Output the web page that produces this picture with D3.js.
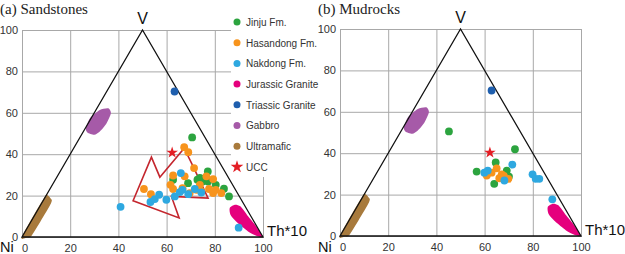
<!DOCTYPE html>
<html>
<head>
<meta charset="utf-8">
<script src="https://cdn.jsdelivr.net/npm/d3@7"></script>
<style>
  body { margin: 0; background: #fff; }
  svg { display: block; }
</style>
</head>
<body>
<svg id="chart"></svg>
<script>
/* global d3 */
const ticks = [0, 20, 40, 60, 80, 100]
const groups = ['Jinju Fm.', 'Hasandong Fm.', 'Nakdong Fm.', 'Jurassic Granite', 'Triassic Granite', 'Gabbro', 'Ultramafic', 'UCC']
const colors = ['#2ca43f', '#f7941d', '#2ea8e0', '#e5007d', '#1f5fae', '#a65aa8', '#a87a3c', '#e31e25']
const sans = '"Liberation Sans", Arial, sans-serif'
const serif = '"Liberation Serif", "DejaVu Serif", serif'

// (a) sandstones, [x, y] on the 0-100 frame
const jinjuA = [[70.6, 48.1], [77.1, 31.7], [72.8, 27.7], [74.9, 26.8], [68.9, 26], [80.4, 25.2], [83.8, 23.3], [85.9, 19.6], [62.7, 27.7], [77.2, 26.8], [73.8, 28.5]]
const hasandongA = [[67.3, 43.4], [69, 41], [71.4, 33.3], [62.7, 29.7], [67.5, 29.3], [50.6, 23.2], [53.5, 20.7], [61.6, 25.2], [62.7, 23.2], [66.6, 23.6], [69.6, 21.2], [73.8, 25.2], [76.5, 29.3], [79.3, 28], [77.6, 23.2], [80.4, 22.8], [79.3, 21.2], [82.7, 21.2], [74.4, 22], [72.4, 22.8]]
const nakdongA = [[40.9, 14.6], [53.3, 16.9], [55.1, 18.3], [56.9, 20.4], [59.9, 18], [63.4, 19.6], [65.5, 21.7], [66.6, 22.8], [65.9, 30.9], [69, 20.7], [71.7, 23.2], [74.4, 21.5], [89.9, 4.5]]
const triassicA = [[63.3, 70.3]]
const uccA = [[62.3, 40.8]]

// (b) mudrocks
const jinjuB = [[45.2, 50.5], [72.6, 41.9], [56.7, 31.1], [64.6, 35.5], [64, 25.2], [69.2, 31.6], [70.1, 28.7]]
const hasandongB = [[60.9, 29.2], [62.9, 30.6], [65, 32.7], [67.1, 29.8], [66.1, 27.9], [69.9, 27.6], [68, 29]]
const nakdongB = [[61.3, 31.6], [71.5, 34.5], [79.9, 29.8], [81.2, 27.6], [82.7, 27.6], [88.1, 17.7], [68.2, 26.8], [59.9, 30.6]]
const triassicB = [[62.9, 70.3]]
const uccB = [[62.2, 40.3]]

// fields
const gabbroField = [[26.5, 52.6], [28.2, 57.4], [32.3, 61.4], [35.8, 62.2], [36.9, 59.8], [35.1, 55], [32.3, 51], [30, 49.4], [27.1, 50.5]]
const ultramaficField = [[0, 0.3], [9.4, 19.4], [10.6, 20.2], [11.9, 18.6], [12, 16.2], [4.2, 1], [2, -0.3]]
const jurassicField = [[86.2, 14], [88.3, 15.6], [90.6, 14.8], [93.8, 10], [97.2, 5.1], [100, 0], [97.2, 0.6], [93.8, 2.7], [89.2, 7.1], [86.5, 10.8]]
const sandstoneOutline = [[46.1, 17.5], [53.7, 38.6], [57.2, 28.9], [67.3, 42.9], [71, 34.1], [77.2, 18.8], [62, 19.6], [65.2, 9.2]]
const triangle = [[0, 0], [50, 100], [100, 0]]

const svg = d3.select('#chart').attr('width', 625).attr('height', 254)

const panels = [
  { x0: 22, x1: 263, y0: 237, y1: 30, title: '(a) Sandstones', tx: 0,
    jinju: jinjuA, hasandong: hasandongA, nakdong: nakdongA, triassic: triassicA, ucc: uccA, outline: sandstoneOutline },
  { x0: 340, x1: 581, y0: 236, y1: 29, title: '(b) Mudrocks', tx: 318,
    jinju: jinjuB, hasandong: hasandongB, nakdong: nakdongB, triassic: triassicB, ucc: uccB, outline: null }
]

panels.forEach((p, pi) => {
  const x = d3.scaleLinear().domain([0, 100]).range([p.x0, p.x1])
  const y = d3.scaleLinear().domain([0, 100]).range([p.y0, p.y1])
  const g = svg.append('g')

  // grid + tick labels
  const xAxis = g.append('g')
    .attr('transform', `translate(0,${p.y0})`)
    .call(d3.axisBottom(x).tickValues(ticks).tickSize(-(p.y0 - p.y1)).tickPadding(7))
  const yAxis = g.append('g')
    .attr('transform', `translate(${p.x0},0)`)
    .call(d3.axisLeft(y).tickValues(ticks).tickSize(-(p.x1 - p.x0)).tickPadding(4))
  ;[xAxis, yAxis].forEach(a => {
    a.select('.domain').remove()
    a.selectAll('line').attr('stroke', '#a8a8a8').attr('stroke-width', 1)
    a.selectAll('text').attr('fill', '#333').attr('font-size', 11).attr('font-family', sans)
  })
  // the "0" under Ni sits just right of the corner
  xAxis.selectAll('text').filter(d => d === 0).attr('text-anchor', 'start').attr('dx', -0.5)

  // legend box hides part of the first grid
  if (pi === 0) {
    svg.append('rect').attr('x', 231).attr('y', 0).attr('width', 86).attr('height', 177).attr('fill', '#fff')
  }

  const blob = d3.line().x(d => x(d[0])).y(d => y(d[1])).curve(d3.curveCardinalClosed.tension(0.3))
  const closed = d3.line().x(d => x(d[0])).y(d => y(d[1])).curve(d3.curveLinearClosed)

  g.append('path').datum(gabbroField).attr('d', blob).attr('fill', colors[5])
  g.append('path').datum(ultramaficField).attr('d', blob).attr('fill', colors[6])
  g.append('path').datum(jurassicField).attr('d', blob).attr('fill', colors[3])

  g.append('path').datum(triangle).attr('d', closed)
    .attr('fill', 'none').attr('stroke', '#111').attr('stroke-width', 1.3)

  if (p.outline) {
    g.append('path').datum(p.outline).attr('d', closed)
      .attr('fill', 'none').attr('stroke', '#c4262e').attr('stroke-width', 1.6)
  }

  const sets = [[p.jinju, colors[0]], [p.hasandong, colors[1]], [p.nakdong, colors[2]], [p.triassic, colors[4]]]
  sets.forEach(([data, c]) => {
    g.append('g').selectAll('circle').data(data).enter().append('circle')
      .attr('cx', d => x(d[0])).attr('cy', d => y(d[1])).attr('r', 3.9).attr('fill', c)
  })

  g.selectAll('.ucc').data(p.ucc).enter().append('path')
    .attr('transform', d => `translate(${x(d[0])},${y(d[1])})`)
    .attr('d', d3.symbol(d3.symbolStar, 42)).attr('fill', colors[7])

  // vertex labels
  g.append('text').attr('x', x(50)).attr('y', y(100) - 6).attr('text-anchor', 'middle')
    .attr('font-family', sans).attr('font-size', 16).attr('fill', '#111').text('V')
  g.append('text').attr('x', x(100) + 4).attr('y', y(0) - 1)
    .attr('font-family', sans).attr('font-size', 15).attr('fill', '#111').text('Th*10')
  g.append('text').attr('x', x(0) - 22).attr('y', 252)
    .attr('font-family', sans).attr('font-size', 14.5).attr('fill', '#111').text('Ni')

  svg.append('text').attr('x', p.tx).attr('y', 14)
    .attr('font-family', serif).attr('font-size', 15).attr('fill', '#222').text(p.title)
})

// legend
const legend = svg.append('g').attr('transform', 'translate(237,22)')
const item = legend.selectAll('g').data(groups).enter().append('g')
  .attr('transform', (d, i) => `translate(0,${i * 20.7})`)
item.each(function (d, i) {
  const s = d3.select(this)
  if (d === 'UCC') {
    s.append('path').attr('d', d3.symbol(d3.symbolStar, 50)).attr('fill', colors[i])
  } else {
    s.append('circle').attr('r', 3.5).attr('fill', colors[i])
  }
})
item.append('text').attr('x', 9).attr('y', 3.8).attr('font-family', sans)
  .attr('font-size', 10).attr('fill', '#333').text(d => d)
</script>
</body>
</html>
